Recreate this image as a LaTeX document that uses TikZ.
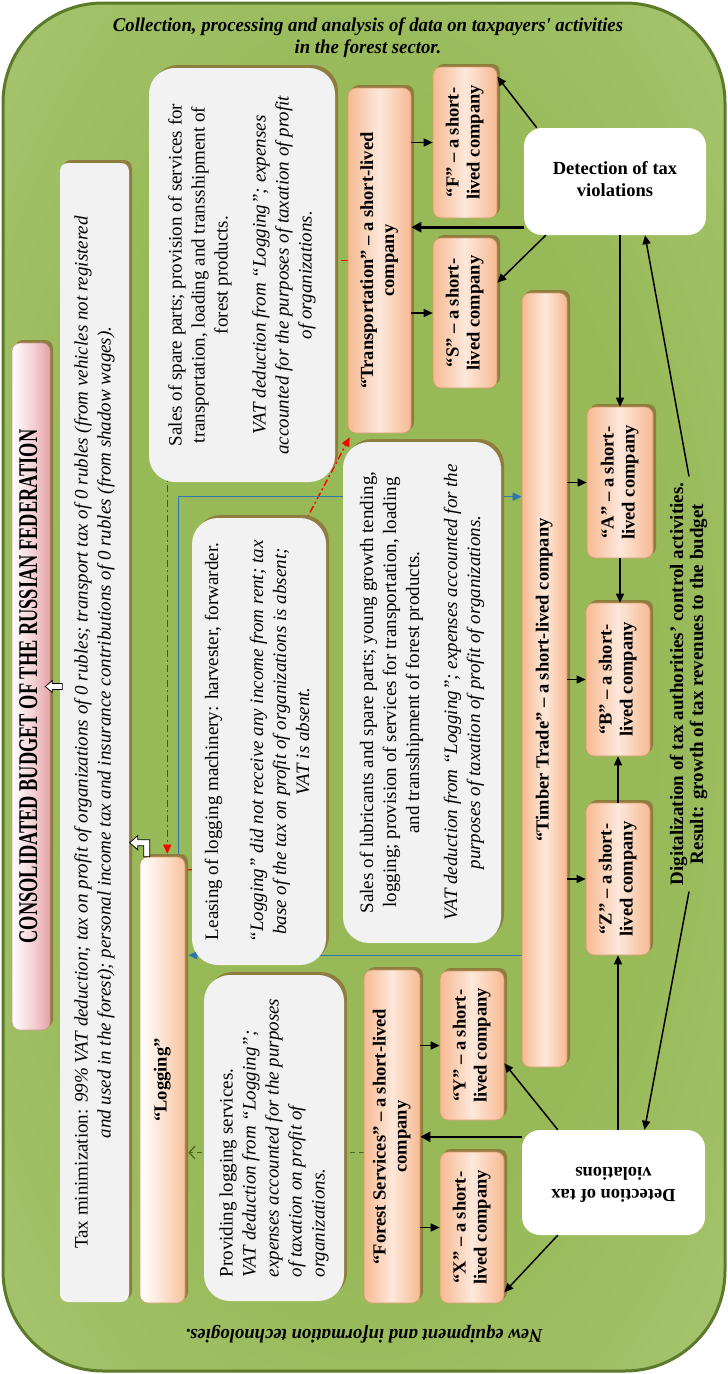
\documentclass[tikz,border=0pt]{standalone}
\usepackage{graphicx}
\usepackage{fontspec}
\setmainfont{Liberation Serif}
\newfontfamily\condfont[FakeStretch=0.68]{Liberation Serif}
\newfontfamily\capfont[FakeStretch=0.96]{Liberation Serif}
\usetikzlibrary{arrows.meta,shadows}
\definecolor{gin}{HTML}{97B957}
\definecolor{gout}{HTML}{CADDA5}
\definecolor{gborder}{HTML}{5B7A2A}
\definecolor{orng}{HTML}{F6BA92}
\definecolor{peach}{HTML}{FDE8DB}
\definecolor{logorng}{HTML}{F7C19C}
\definecolor{logmid}{HTML}{FCE3D2}
\definecolor{compedge}{HTML}{D49A6A}
\definecolor{shbr}{HTML}{8F7D3F}
\definecolor{boxgray}{HTML}{F2F2F2}
\definecolor{pinkc}{HTML}{E6A3A9}
\definecolor{pinkedge}{HTML}{C9988F}
\definecolor{bluel}{HTML}{2E75B6}
\definecolor{redl}{HTML}{FF0000}
\definecolor{greenl}{HTML}{4F6228}
\pgfdeclareradialshading{greenrad}{\pgfpoint{0bp}{0bp}}{color(0bp)=(gin); color(20bp)=(gin); color(72bp)=(gout)}
\pgfdeclarelayer{back}
\pgfdeclarelayer{lines}
\pgfsetlayers{back,lines,main}
\newcommand\myrot[1]{\rotatebox{90}{\begin{tabular}{@{}c@{}}#1\end{tabular}}}
\newcommand\myrotl[1]{\rotatebox{90}{\begin{tabular}{@{}l@{}}#1\end{tabular}}}
\newcommand\myflip[1]{\rotatebox{180}{\begin{tabular}{@{}c@{}}#1\end{tabular}}}
\tikzset{
  shad/.style={drop shadow={shadow xshift=3pt, shadow yshift=3pt, fill=shbr, opacity=1}},
  comp/.style={shad, draw=compedge, line width=0.6pt, rounded corners=8pt,
    left color=orng, right color=orng, middle color=peach, inner sep=0pt,
    font=\fontsize{18.5}{21}\selectfont\bfseries},
  logshade/.style={left color=white, right color=logorng, middle color=logmid},
  tbox/.style={shad, fill=boxgray, rounded corners=26pt, inner sep=0pt,
    font=\fontsize{19}{23}\selectfont},
  pinkbox/.style={shad, draw=pinkedge, line width=0.6pt, rounded corners=8pt,
    left color=white, right color=pinkc, middle color=pinkc!45, inner sep=0pt,
    font=\fontsize{27}{30}\condfont\bfseries},
  detbox/.style={fill=white, rounded corners=18pt, inner sep=0pt,
    font=\fontsize{18.5}{22}\selectfont\bfseries},
  captxt/.style={inner sep=0pt, align=center, font=\fontsize{19.5}{22}\capfont\bfseries\itshape},
  arr/.style={-{Triangle[length=9pt,width=8pt]}, line width=1.5pt, black},
  arrb/.style={-{Triangle[length=10pt,width=10pt]}, line width=2.6pt, black},
  bluearr/.style={-{Triangle[length=9pt,width=8pt]}, line width=1.3pt, bluel},
  redarr/.style={-{Triangle[length=9pt,width=8pt]}, line width=1.4pt, redl, dash pattern=on 7pt off 3pt on 2pt off 3pt},
  greenarr/.style={-{Straight Barb[length=6pt,width=13pt]}, line width=1.2pt, greenl, dash pattern=on 5pt off 4pt},
  wharrow/.style={fill=white, draw=black, line width=0.8pt, line join=miter}
}
\begin{document}
\begin{tikzpicture}[x=1pt,y=-1pt]
\useasboundingbox (0,0) rectangle (728,1374);
\begin{pgfonlayer}{back}
\fill[white] (0,0) rectangle (728,1374);
\path[shade, shading=greenrad, draw=gborder, line width=3pt, rounded corners=100pt] (3,3) rectangle (725,1371);
\end{pgfonlayer}

% captions
\node[captxt] (cap1) at (368,38) {Collection, processing and analysis of data on taxpayers' activities\\in the forest sector.};
\node[captxt, rotate=180] (cap2) at (364,1334) {New equipment and information technologies.};

% left column
\node[pinkbox, minimum width=38, minimum height=687] (budget) at (31,686.5)
  {\myrot{CONSOLIDATED BUDGET OF THE RUSSIAN FEDERATION}};
\node[tbox, rounded corners=8pt, minimum width=69, minimum height=1139] (tax) at (94.5,732.5)
  {\myrot{Tax minimization: \textit{99\% VAT deduction; tax on profit of organizations of 0 rubles; transport tax of 0 rubles (from vehicles not registered}\\
   \textit{and used in the forest); personal income tax and insurance contributions of 0 rubles (from shadow wages).}}};
\node[comp, logshade, minimum width=45, minimum height=446] (log) at (162.5,1080) {\myrot{“Logging”}};

% text boxes
\node[tbox, minimum width=186, minimum height=414] (sales) at (242,275)
  {\myrot{Sales of spare parts; provision of services for\\ transportation, loading and transshipment of\\ forest products.\\[15pt]
   \textit{VAT deduction from  “Logging”; expenses}\\ \textit{accounted for the purposes of taxation of profit}\\ \textit{of organizations.}}};
\node[tbox, minimum width=134, minimum height=447] (leas) at (259,741.5)
  {\myrot{Leasing of logging machinery: harvester, forwarder.\\[22pt]
   \textit{“Logging” did not receive any income from rent; tax}\\ \textit{base of the tax on profit of organizations is absent;}\\ \textit{VAT is absent.}}};
\node[tbox, minimum width=140, minimum height=326] (prov) at (274,1138)
  {\myrotl{Providing logging services.\\ \textit{VAT deduction from “Logging”;}\\ \textit{expenses accounted for the purposes}\\ \textit{of taxation on profit of}\\ \textit{organizations.}}};
\node[tbox, minimum width=158, minimum height=501] (lubr) at (422,692.5)
  {\myrot{Sales of lubricants and spare parts; young growth tending,\\ logging; provision of services for transportation, loading\\ and transshipment of forest products.\\[15pt]
   \textit{VAT deduction from  “Logging”; expenses accounted for the}\\ \textit{purposes of taxation of profit of organizations.}}};

% companies
\node[comp, minimum width=63, minimum height=345] (trans) at (379.5,260.5) {\myrot{“Transportation” – a short-lived\\company}};
\node[comp, minimum width=56, minimum height=333] (fs) at (392,1136.5) {\myrot{“Forest Services” – a short-lived\\company}};
\node[comp, minimum width=64, minimum height=151] (F) at (465,142.5) {\myrot{“F” – a short-\\lived company}};
\node[comp, minimum width=64, minimum height=150] (S) at (465,313) {\myrot{“S” – a short-\\lived company}};
\node[comp, minimum width=64, minimum height=149] (Y) at (472,1045.5) {\myrot{“Y” – a short-\\lived company}};
\node[comp, minimum width=64, minimum height=151] (X) at (472,1227.5) {\myrot{“X” – a short-\\lived company}};
\node[comp, minimum width=45, minimum height=774] (timber) at (544.5,680) {\myrot{“Timber Trade” – a short-lived company}};
\node[comp, minimum width=66, minimum height=151] (A) at (620,482.5) {\myrot{“A” – a short-\\lived company}};
\node[comp, minimum width=64, minimum height=153] (B) at (618,679.5) {\myrot{“B” – a short-\\lived company}};
\node[comp, minimum width=64, minimum height=152] (Z) at (618,879) {\myrot{“Z” – a short-\\lived company}};

% detection boxes
\node[detbox, minimum width=182, minimum height=107] (det1) at (615,181.5) {\begin{tabular}{@{}c@{}}Detection of tax\\violations\end{tabular}};
\node[detbox, minimum width=183, minimum height=105] (det2) at (613.5,1182.5) {\myflip{Detection of tax\\violations}};

\node[inner xsep=1pt, inner ysep=6pt, font=\fontsize{19}{20}\selectfont\bfseries] (dig) at (689,684)
  {\myrot{Digitalization of tax authorities’ control activities.\\Result: growth of tax revenues to the budget}};

% hidden-part connectors
\begin{pgfonlayer}{lines}
\draw[redarr] (trans.west) -| ([xshift=-18pt,yshift=3pt]log.north east);
\draw[redarr] ([yshift=-13pt]log.north east) -| ([xshift=-19pt]leas.north east) -- ([xshift=2pt,yshift=-4pt]trans.south west);
\coordinate (bb) at ([yshift=-204pt]timber.north west);
\draw[bluearr] ([xshift=-7pt]log.north east) |- (bb);
\coordinate (bc) at ([yshift=112pt]timber.south west);
\draw[bluearr] (bc) -- ([xshift=3pt]log.east |- bc);
\coordinate (gc) at ([yshift=-16pt]fs.west);
\draw[greenarr] (gc) -- ([xshift=3pt]log.east |- gc);
\end{pgfonlayer}

% visible connectors
\draw[arr] (trans.east |- F.west) -- (F.west);
\draw[arr] (trans.east |- S.west) -- (S.west);
\draw[arr] (timber.east |- A.west) -- (A.west);
\draw[arr] (timber.east |- B.west) -- (B.west);
\draw[arr] (timber.east |- Z.west) -- (Z.west);
\draw[arr] (fs.east |- Y.west) -- (Y.west);
\draw[arr] (fs.east |- X.west) -- (X.west);

\draw[arr] ([xshift=13pt]det1.north west) -- ([yshift=-10pt]F.north east);
\coordinate (d1t) at ([yshift=8pt]det1.south west);
\draw[arrb] (d1t) -- (trans.east |- d1t);
\draw[arr] ([xshift=22pt]det1.south west) -- ([yshift=-45pt]S.north east);
\draw[arr] (A.north |- det1.south) -- (A.north);
\draw[arr] (A.south) -- (A.south |- B.north);
\draw[arr] (Z.north) -- (Z.north |- B.south);
\draw[arr] (Z.south |- det2.north) -- (Z.south);
\coordinate (d2t) at ([yshift=-7pt]det2.north west);
\draw[arrb] (d2t) -- (fs.east |- d2t);
\draw[arr] ([xshift=36pt]det2.north west) -- ([yshift=57pt]Y.south east);
\draw[arr] ([xshift=36pt]det2.south west) -- ([yshift=11pt]X.south east);
\draw[arr] (dig.north) -- ([xshift=30pt]det1.south);
\draw[arr] (dig.south) -- ([xshift=31pt]det2.north);

% white block arrows
\draw[wharrow] ([xshift=-5pt]budget.east) -- ++(7,-6) -- ++(0,3) -- ++(10,0) -- ++(0,6) -- ++(-10,0) -- ++(0,3) -- cycle;
\draw[wharrow] ([shift={(-10,-14)}]log.north west) -- ++(8,-7) -- ++(0,4) -- ++(12,0) -- ++(0,17) -- ++(-6,0) -- ++(0,-11) -- ++(-6,0) -- ++(0,4) -- cycle;
\end{tikzpicture}
\end{document}
